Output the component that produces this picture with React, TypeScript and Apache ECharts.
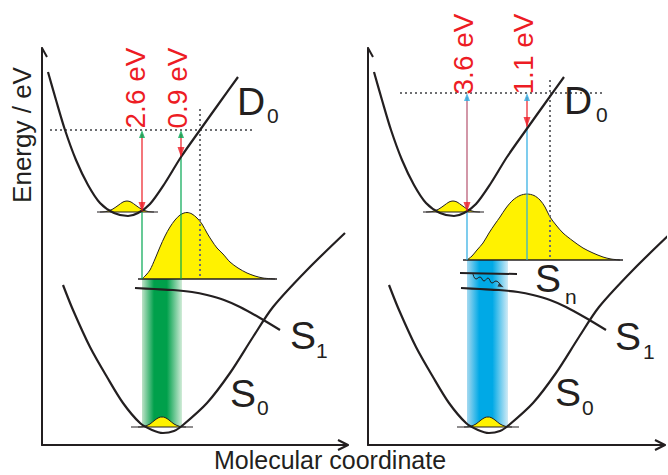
import React, { useEffect, useRef } from "react";
import * as echarts from "echarts";

const FONT = "'Liberation Sans', Arial, Helvetica, sans-serif";
const INK = "#231f20";
const RED = "#ed1c24";
const GREEN = "#00a651";
const BLUE = "#29abe2";
const MAUVE = "#b4536e";
const YELLOW = "#fff200";
const DOT = "#6d6e71";

// Axis extents (molecular coordinate / energy, arbitrary units)
const xMax = [306, 297];
const yMax = 397;

// Potential energy curves (same shapes in both panels)
const d0Curve = [[6,373],[14,345],[23,315],[34,285],[46,260],[58,242],[72,232],[86,229],[96,232],[108,241],[123,262],[139,288],[158,315],[178,343],[196,368]];
const s1Curve = [[93,157],[112,156],[131,155],[150,153],[165,150],[182,145],[198,138],[218,127],[238,115]];
const s0Curve = [[21,160],[31,135],[48,98],[65,68],[81,42],[98,22],[110,15],[121,12],[132,14],[141,20],[165,42],[188,72],[211,108],[231,138],[265,175],[303,212]];

// Vibrational ground-state wavepackets
const d0Vib = [[58,233],[64,233.5],[70,235.5],[76,239.5],[81,243],[85,244],[89,243],[94,239.5],[100,235.5],[106,233.5],[112,233]];
const d0VibBase = [[55,233],[116,233]];
const s0Vib = [[96,18],[102,18.5],[108,21],[113,25],[117,27.5],[120,28],[123,27.5],[127,25],[132,21],[138,18.5],[144,18]];
const s0VibBase = [[89,18],[151,18]];

// Excited-state wavepackets
const s1Packet = [[100,166],[104,170],[108,175],[113,186],[118,198],[123,209],[128,218],[133,225],[138,230],[142,232],[145,232.5],[150,231],[155,227],[160,221],[165,212],[170,204],[175,197],[181,191],[188,183],[196,177],[205,172],[213,169],[221,167],[233,166]];
const s1PacketBase = [[96,166],[235,166]];
const snPacket = [[99,185],[104,189],[109,195],[115,202],[121,212],[127,221],[132,228],[138,237],[145,245],[152,249.5],[159,251],[166,249.5],[172,245],[177,238],[182,228],[188,220],[195,212],[205,204],[215,197],[225,192],[235,188],[243,186],[252,185]];
const snPacketBase = [[95,185],[255,185]];
const packets = [s1Packet, snPacket];
const packetBases = [s1PacketBase, snPacketBase];

// Pump bands [x0, x1, y0, y1]
const bands = [[[100, 140, 18, 166]], [[99, 140, 18, 185]]];

// Ionisation levels (dotted)
const dottedH = [[[8,315],[213,315]], [[32,352],[237,352]]];
const dottedV = [[[158,336],[158,166]], [[182,365],[182,185]]];

// Photoelectron arrows: x, start, hit on D0, top level
const arrowX = [[100, 139], [99, 159]];
const arrowFrom = [[166, 166], [185, 185]];
const arrowHit = [[233, 288], [233, 318]];
const arrowTop = [[315, 315], [352, 352]];
const energyLabels = [["2.6 eV", "0.9 eV"], ["3.6 eV", "1.1 eV"]];

// Sn level and internal conversion
const snLevel = [[92,172],[149,171]];
const wavy = [[105,171],[108,166],[112,168],[116,164],[120,167],[124,162],[128,164],[133,159]];

const lowColor = [GREEN, BLUE];
const upperColor = [[RED, RED], [MAUVE, RED]];

function line(p: number, data: number[][], color: string, width: number, extra: any = {}) {
  return {
    type: "line", xAxisIndex: p, yAxisIndex: p, data, symbol: "none", showSymbol: false,
    clip: false, silent: true, lineStyle: { color, width }, z: 4, ...extra,
  };
}
function head(p: number, pt: number[], color: string, rot: number, size = [7, 10]) {
  return {
    type: "scatter", xAxisIndex: p, yAxisIndex: p, data: [pt], symbol: "triangle",
    symbolSize: size, symbolRotate: rot, itemStyle: { color }, silent: true, z: 6, clip: false,
  };
}

function buildSeries() {
  const s: any[] = [];
  [0, 1].forEach((p) => {
    const grad = p === 0
      ? [{ offset: 0, color: "#bfe2c8" }, { offset: 0.3, color: "#00a04b" }, { offset: 0.62, color: "#00a04b" }, { offset: 1, color: "#d2ecd8" }]
      : [{ offset: 0, color: "#a6d9f0" }, { offset: 0.3, color: "#00a9e6" }, { offset: 0.62, color: "#00a9e6" }, { offset: 1, color: "#d2ebf6" }];
    s.push({
      type: "custom", xAxisIndex: p, yAxisIndex: p, data: bands[p], clip: false, silent: true, z: 1,
      renderItem: (_: any, api: any) => {
        const a = api.coord([api.value(0), api.value(3)]);
        const b = api.coord([api.value(1), api.value(2)]);
        return {
          type: "rect", shape: { x: a[0], y: a[1], width: b[0] - a[0], height: b[1] - a[1] },
          style: { fill: new echarts.graphic.LinearGradient(0, 0, 1, 0, grad) },
        };
      },
    });
    // wavepackets
    s.push(line(p, d0Vib, INK, 1, { smooth: 0.3, areaStyle: { color: YELLOW, opacity: 1, origin: 233 }, z: 2 }));
    s.push(line(p, d0VibBase, INK, 1.2, { z: 2 }));
    s.push(line(p, s0Vib, INK, 1, { smooth: 0.3, areaStyle: { color: YELLOW, opacity: 1, origin: 18 }, z: 2 }));
    s.push(line(p, s0VibBase, INK, 1.2, { z: 2 }));
    s.push(line(p, packets[p], INK, 1, { smooth: 0.3, areaStyle: { color: YELLOW, opacity: 1, origin: packetBases[p][0][1] }, z: 2 }));
    s.push(line(p, packetBases[p], INK, 1.5, { z: 2 }));
    // dotted
    s.push(line(p, dottedH[p], DOT, 2, { lineStyle: { color: DOT, width: 2, type: [2, 3] }, z: 3 }));
    s.push(line(p, dottedV[p], DOT, 2, { lineStyle: { color: DOT, width: 2, type: [2, 3] }, z: 3 }));
    // arrows
    [0, 1].forEach((k) => {
      const x = arrowX[p][k];
      s.push(line(p, [[x, arrowFrom[p][k]], [x, arrowHit[p][k]]], lowColor[p], 1.2, { z: 3 }));
      s.push(line(p, [[x, arrowHit[p][k]], [x, arrowTop[p][k] - 4]], upperColor[p][k], 1.2, { z: 3 }));
      s.push(head(p, [x, arrowTop[p][k] - 4], lowColor[p], 0, [6, 8]));
      s.push(head(p, [x, arrowHit[p][k] + 5], RED, 180, [7, 10]));
    });
    // curves
    s.push(line(p, d0Curve, INK, 2.2, { smooth: 0.3 }));
    s.push(line(p, s1Curve, INK, 2.2, { smooth: 0.3 }));
    s.push(line(p, s0Curve, INK, 2.2, { smooth: 0.3 }));
    // axis arrow chevrons
    s.push(line(p, [[-5, yMax - 9], [0, yMax], [5, yMax - 9]], INK, 2));
    s.push(line(p, [[xMax[p] - 10, 5], [xMax[p], 0], [xMax[p] - 10, -5]], INK, 2));
  });
  s.push(line(1, snLevel, INK, 2));
  s.push(line(1, wavy, INK, 1, { smooth: 0.5 }));
  s.push(head(1, wavy[wavy.length - 1], INK, -115, [4, 6]));
  return s;
}

function txt(text: string, x: number, y: number, size: number, fill = INK, rot = 0, align = "left") {
  return {
    type: "text", x, y, rotation: rot, silent: true, z: 10,
    style: { text, fontSize: size, fontFamily: FONT, fill, align, verticalAlign: "middle" },
  };
}

export default function App() {
  const ref = useRef<HTMLDivElement>(null);
  useEffect(() => {
    if (!ref.current) return;
    const chart = echarts.init(ref.current, undefined, { renderer: "svg" });
    const axisBase = {
      type: "value", axisLine: { show: true, onZero: false, lineStyle: { color: INK, width: 2 } },
      axisTick: { show: false }, axisLabel: { show: false }, splitLine: { show: false },
    };
    const R = Math.PI / 2;
    chart.setOption({
      animation: false,
      backgroundColor: "#ffffff",
      grid: [
        { left: 42, top: 48, width: 306, height: 397 },
        { left: 368, top: 48, width: 297, height: 397 },
      ],
      xAxis: [0, 1].map((p) => ({ ...axisBase, gridIndex: p, min: 0, max: xMax[p] })),
      yAxis: [0, 1].map((p) => ({ ...axisBase, gridIndex: p, min: 0, max: yMax })),
      series: buildSeries(),
      graphic: [
        txt("Energy / eV", 22, 135, 26, INK, R, "center"),
        txt("Molecular coordinate", 330, 460, 25, INK, 0, "center"),
        txt(energyLabels[0][0], 135, 88, 28, RED, R, "center"),
        txt(energyLabels[0][1], 177, 88, 28, RED, R, "center"),
        txt(energyLabels[1][0], 463, 54, 28, RED, R, "center"),
        txt(energyLabels[1][1], 523, 54, 28, RED, R, "center"),
        txt("D", 237, 101, 39), txt("0", 267, 115, 21),
        txt("D", 564, 100, 39), txt("0", 596, 114, 21),
        txt("S", 290, 335, 39), txt("1", 316, 350, 21),
        txt("S", 230, 393, 39), txt("0", 257, 407, 21),
        txt("S", 615, 336, 39), txt("1", 643, 351, 21),
        txt("S", 555, 392, 39), txt("0", 582, 407, 21),
        txt("S", 535, 278, 39), txt("n", 565, 296, 21),
      ],
    });
    return () => chart.dispose();
  }, []);
  return <div ref={ref} style={{ position: "fixed", left: 0, top: 0, width: 668, height: 475 }} />;
}
